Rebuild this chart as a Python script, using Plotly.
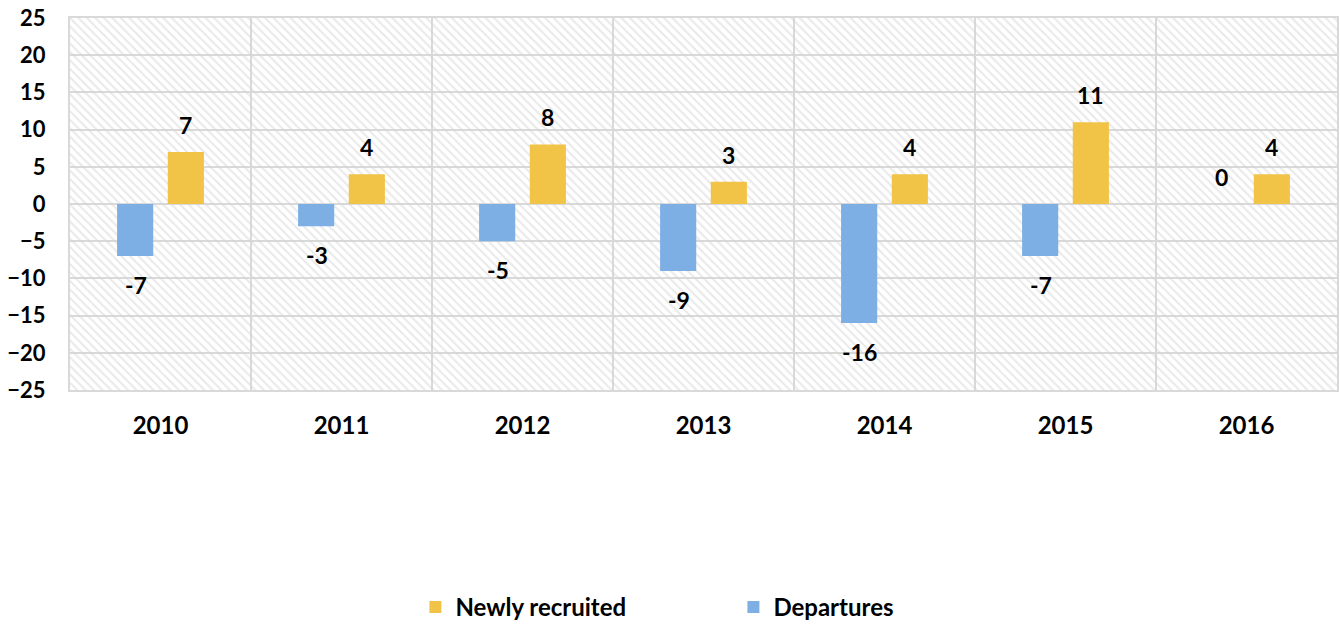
import plotly.graph_objects as go

years = ["2010", "2011", "2012", "2013", "2014", "2015", "2016"]
departures = [-7, -3, -5, -9, -16, -7, 0]
newly_recruited = [7, 4, 8, 3, 4, 11, 4]
y_ticks = [25, 20, 15, 10, 5, 0, -5, -10, -15, -20, -25]

BLUE = "#7DAFE4"
GOLD = "#F1C346"
GRID = "#D9D9D9"
FONT = "Lato"

fig = go.Figure()

# hatched plot background (decoration) on the base axes, drawn beneath the data
fig.add_trace(go.Bar(
    x=[0.5], y=[1], base=[0], width=[1], xaxis="x", yaxis="y",
    marker=dict(color="rgba(0,0,0,0)", line=dict(width=0),
                pattern=dict(shape="\\", fgcolor="#D4D4D4", bgcolor="rgba(0,0,0,0)",
                             size=6, solidity=0.35, fillmode="overlay")),
    showlegend=False, hoverinfo="skip",
))

fig.add_trace(go.Bar(x=years, y=departures, name="Departures", xaxis="x2", yaxis="y2",
                     marker=dict(color=BLUE, line=dict(width=0))))
fig.add_trace(go.Bar(x=years, y=newly_recruited, name="Newly recruited", xaxis="x2", yaxis="y2",
                     marker=dict(color=GOLD, line=dict(width=0))))

# data labels (x given as category index)
for i, yr in enumerate(years):
    for vals, dx in ((departures, -25), (newly_recruited, 25)):
        v = vals[i]
        fig.add_annotation(x=i, y=v, text=str(v), showarrow=False,
                           xshift=dx, yshift=(27 if v >= 0 else -29),
                           font=dict(family=FONT, size=23, color="#000000", weight="bold"),
                           xref="x2", yref="y2")

xtickfont = dict(family=FONT, size=24, color="#000000", weight="bold")
ytickfont = dict(family=FONT, size=22, color="#000000", weight="bold")

fig.update_layout(
    width=1340, height=625,
    margin=dict(l=70, r=3, t=18, b=235),
    paper_bgcolor="white", plot_bgcolor="white",
    barmode="group", bargap=0.44, bargroupgap=0.287,
    font=dict(family=FONT, size=20, color="#000000"),
    xaxis=dict(range=[0, 1], visible=False, fixedrange=True),
    yaxis=dict(range=[0, 1], visible=False, fixedrange=True),
    xaxis2=dict(type="category", categoryorder="array", categoryarray=years,
                range=[-0.5, len(years) - 0.5],
                overlaying="x", anchor="y2", side="bottom",
                tickson="boundaries", showgrid=True, gridcolor=GRID, gridwidth=2,
                showline=True, linecolor=GRID, linewidth=2, mirror=True,
                ticks="", ticklabelstandoff=13, tickangle=0, automargin=False,
                tickfont=xtickfont),
    yaxis2=dict(range=[-25, 25], tickvals=y_ticks, overlaying="y", anchor="x2", side="left",
                showgrid=True, gridcolor=GRID, gridwidth=2,
                zeroline=True, zerolinecolor=GRID, zerolinewidth=2,
                showline=True, linecolor=GRID, linewidth=2, mirror=True,
                ticks="", ticklabelstandoff=18, automargin=False,
                tickfont=ytickfont),
    legend=dict(orientation="h", traceorder="reversed",
                xref="container", x=0.31, xanchor="left",
                yref="container", y=0.028, yanchor="middle",
                entrywidth=273, entrywidthmode="pixels",
                font=dict(family=FONT, size=24, color="#000000", weight="bold")),
)

fig.write_html("out.html", config={"displayModeBar": False},
               post_script="document.body.style.margin='0px';")
